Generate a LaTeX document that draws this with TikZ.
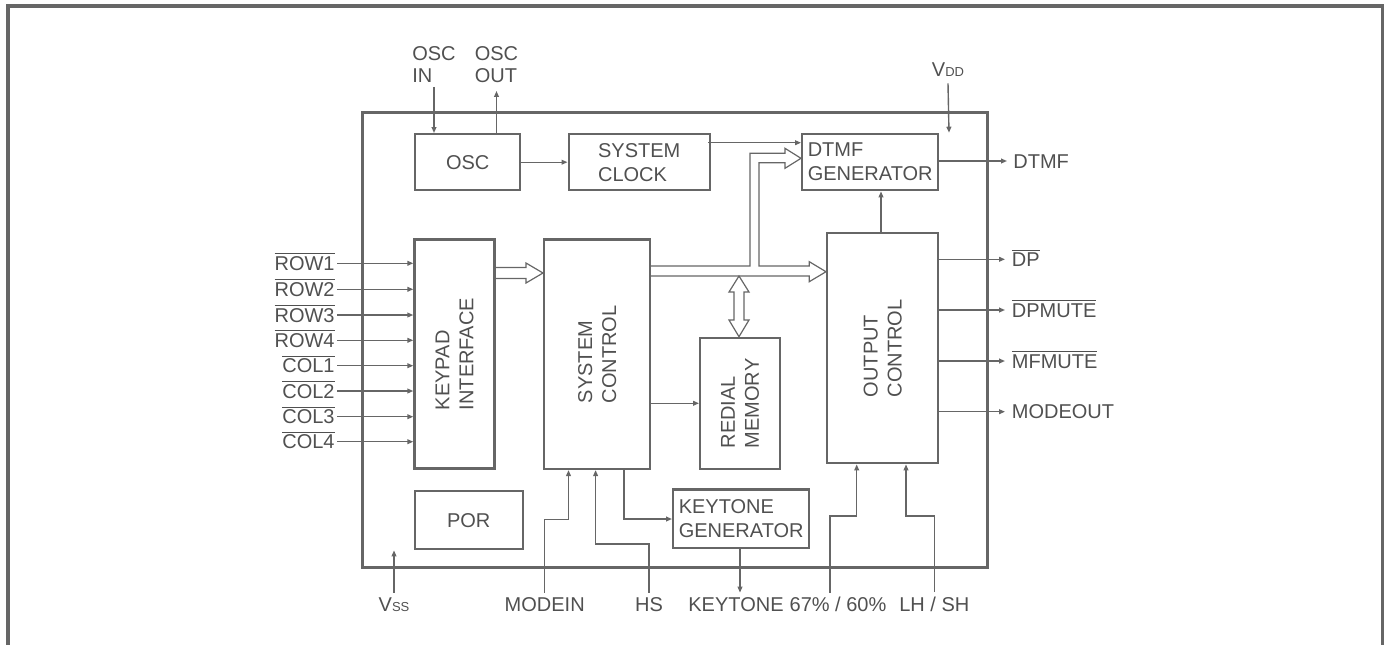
\documentclass[tikz,border=0pt]{standalone}
\usepackage{fontspec}
\setmainfont{Liberation Sans}
\usetikzlibrary{arrows.meta}
\definecolor{ln}{HTML}{666666}
\definecolor{tx}{HTML}{505050}
\newcommand\ovl[1]{$\overline{\mbox{#1}}$}
\newcommand\smallsub[1]{{\fontsize{6.5}{7}\selectfont #1}}
\begin{document}
\begin{tikzpicture}[x=0.5pt,y=-0.5pt,
  font=\fontsize{10}{12}\selectfont, text=tx,
  blk/.style={draw=ln,line width=1.2pt,inner sep=0pt,anchor=north west,align=left},
  rtxt/.style={rotate=90,align=left,inner sep=0pt},
  arr/.style={draw=ln,line width=0.7pt,-{Triangle[length=3pt,width=2.4pt]}},
  wire/.style={draw=ln,line width=0.7pt},
  bus/.style={draw=ln,line width=0.6pt,line join=miter},
  inl/.style={anchor=base east,inner sep=0pt},
  outl/.style={anchor=base west,inner sep=0pt},
  botl/.style={anchor=base,inner sep=2pt},
  topl/.style={font=\fontsize{10}{11}\selectfont,align=left,inner sep=2pt}
]
\useasboundingbox (0,0) rectangle (1389,644);
% outer frame
\draw[ln,line width=1.6pt] (8,650) -- (8,6) -- (1382.7,6) -- (1382.7,650);
% chip
\node[draw=ln,line width=1.6pt,inner sep=0pt,anchor=north west,minimum width=312.5pt,minimum height=227.5pt] (chip) at (361,111) {};
% blocks
\node[blk,align=center,minimum width=52.5pt,minimum height=28pt] (osc) at (414,133) {OSC};
\node[blk,minimum width=70.5pt,minimum height=28pt] (sysclk) at (567.5,133) {SYSTEM\\CLOCK};
\node[blk,minimum width=68pt,minimum height=28pt] (dtmf) at (801,133) {DTMF\\GENERATOR};
\node[blk,minimum width=40pt,minimum height=114.5pt] (keypad) at (413.3,238.3) {};
\node[rtxt] at (keypad.center) {KEYPAD\\INTERFACE};
\node[blk,minimum width=53pt,minimum height=114.7pt] (sysctl) at (543,238.3) {};
\node[rtxt] at (sysctl.center) {SYSTEM\\CONTROL};
\node[blk,minimum width=40pt,minimum height=65.5pt] (redial) at (699,336.7) {};
\node[rtxt] at (redial.center) {REDIAL\\MEMORY};
\node[blk,minimum width=55.5pt,minimum height=115pt] (outctl) at (826,232) {};
\node[rtxt] at (outctl.center) {OUTPUT\\CONTROL};
\node[blk,align=center,minimum width=54pt,minimum height=29pt] (por) at (413.5,490) {POR};
\node[blk,minimum width=68pt,minimum height=29.3pt] (keytone) at (672,488.3) {KEYTONE\\GENERATOR};
% top labels
\node[topl] (oscin) at (434,64.5) {OSC\\IN};
\node[topl] (oscout) at (496.5,64.5) {OSC\\OUT};
\node[inner sep=3pt] (vdd) at (948,70) {V\smallsub{DD}};
\draw[arr] (oscin.south) -- (oscin.south |- osc.north);
\draw[arr,shorten >=2pt] (oscout.south |- osc.north) -- (oscout.south);
\coordinate (vddpt) at (949,132.7);
\draw[arr] (vdd.south) -- (vddpt);
% osc chain
\draw[arr] (osc.east) -- (sysclk.west);
\coordinate (sc1) at (708,142.7);
\draw[arr] (sc1) -- (sc1 -| dtmf.west);
% DTMF out
\node[outl] (dtmfo) at (1013,168) {DTMF};
\coordinate (dto) at (1007,161);
\draw[arr] (dtmf.east |- dto) -- (dto);
% output control -> dtmf
\coordinate (oc1) at (881,232);
\draw[arr] (oc1) -- (oc1 |- dtmf.south);
% keypad inputs
\foreach \t/\yy/\n in {ROW1/263.3/r1,ROW2/289.3/r2,ROW3/315/r3,ROW4/340.3/r4,COL1/365.7/c1,COL2/391/c2,COL3/416.7/c3,COL4/441.7/c4}{
  \coordinate (p\n) at (337,\yy);
  \node[inl] (\n) at (335,\yy+7.2) {\ovl{\t}};
  \draw[arr] (p\n) -- (p\n -| keypad.west);
}
% outputs of output control
\foreach \t/\yy/\n in {\ovl{DP}/259.3/o1,\ovl{DPMUTE}/310/o2,\ovl{MFMUTE}/361/o3,MODEOUT/411.7/o4}{
  \coordinate (p\n) at (1005,\yy);
  \node[outl] (\n) at (1011.5,\yy+7.2) {\t};
  \draw[arr] (outctl.east |- p\n) -- (p\n);
}
% system control -> redial
\coordinate (rd1) at (650,403.3);
\draw[arr] (rd1) -- (rd1 -| redial.west);
% buses
\draw[bus] (493.3,267.5) -- (526,267.5) -- (526,263) -- (543,273) -- (526,283) -- (526,278.5) -- (493.3,278.5);
\draw[bus] (649,266) -- (750,266) -- (750,153.3) -- (785,153.3) -- (785,148.3) -- (801,158.3) -- (785,168.3) -- (785,162.7) -- (759,162.7) -- (759,266) -- (809.3,266) -- (809.3,261.7) -- (826,271.7) -- (809.3,281.7) -- (809.3,276) -- (649,276);
\draw[bus] (739,276) -- (749,292) -- (744,292) -- (744,320) -- (749,320) -- (739,336.7) -- (729,320) -- (734,320) -- (734,292) -- (729,292) -- cycle;
% bottom labels
\node[botl] (vss) at (394,611) {V\smallsub{SS}};
\node[botl] (modein) at (544.7,611) {MODEIN};
\node[botl] (hs) at (649,611) {HS};
\node[botl] (kto) at (736,611) {KEYTONE};
\node[botl] (pct) at (838,611) {67\% / 60\%};
\node[botl] (lhsh) at (934.3,611) {LH / SH};
% bottom connections
\draw[arr] (vss.north) -- (vss.north |- por.south);
\coordinate (mA) at (568.5,519.3);
\draw[arr] (modein.north) |- (mA) -- (mA |- sysctl.south);
\coordinate (hA) at (595.6,544);
\draw[arr] (hs.north) |- (hA) -- (hA |- sysctl.south);
\coordinate (kA) at (624,519);
\draw[arr] (kA |- sysctl.south) -- (kA) -- (kA -| keytone.west);
\coordinate (kB) at (740,592.6);
\draw[arr] (kB |- keytone.south) -- (kB);
\coordinate (pA) at (856.7,516);
\coordinate (pB) at (830,592.6);
\draw[arr] (pB) |- (pA) -- (pA |- outctl.south);
\coordinate (lA) at (906,516);
\draw[arr] (lhsh.north) |- (lA) -- (lA |- outctl.south);
\end{tikzpicture}
\end{document}
